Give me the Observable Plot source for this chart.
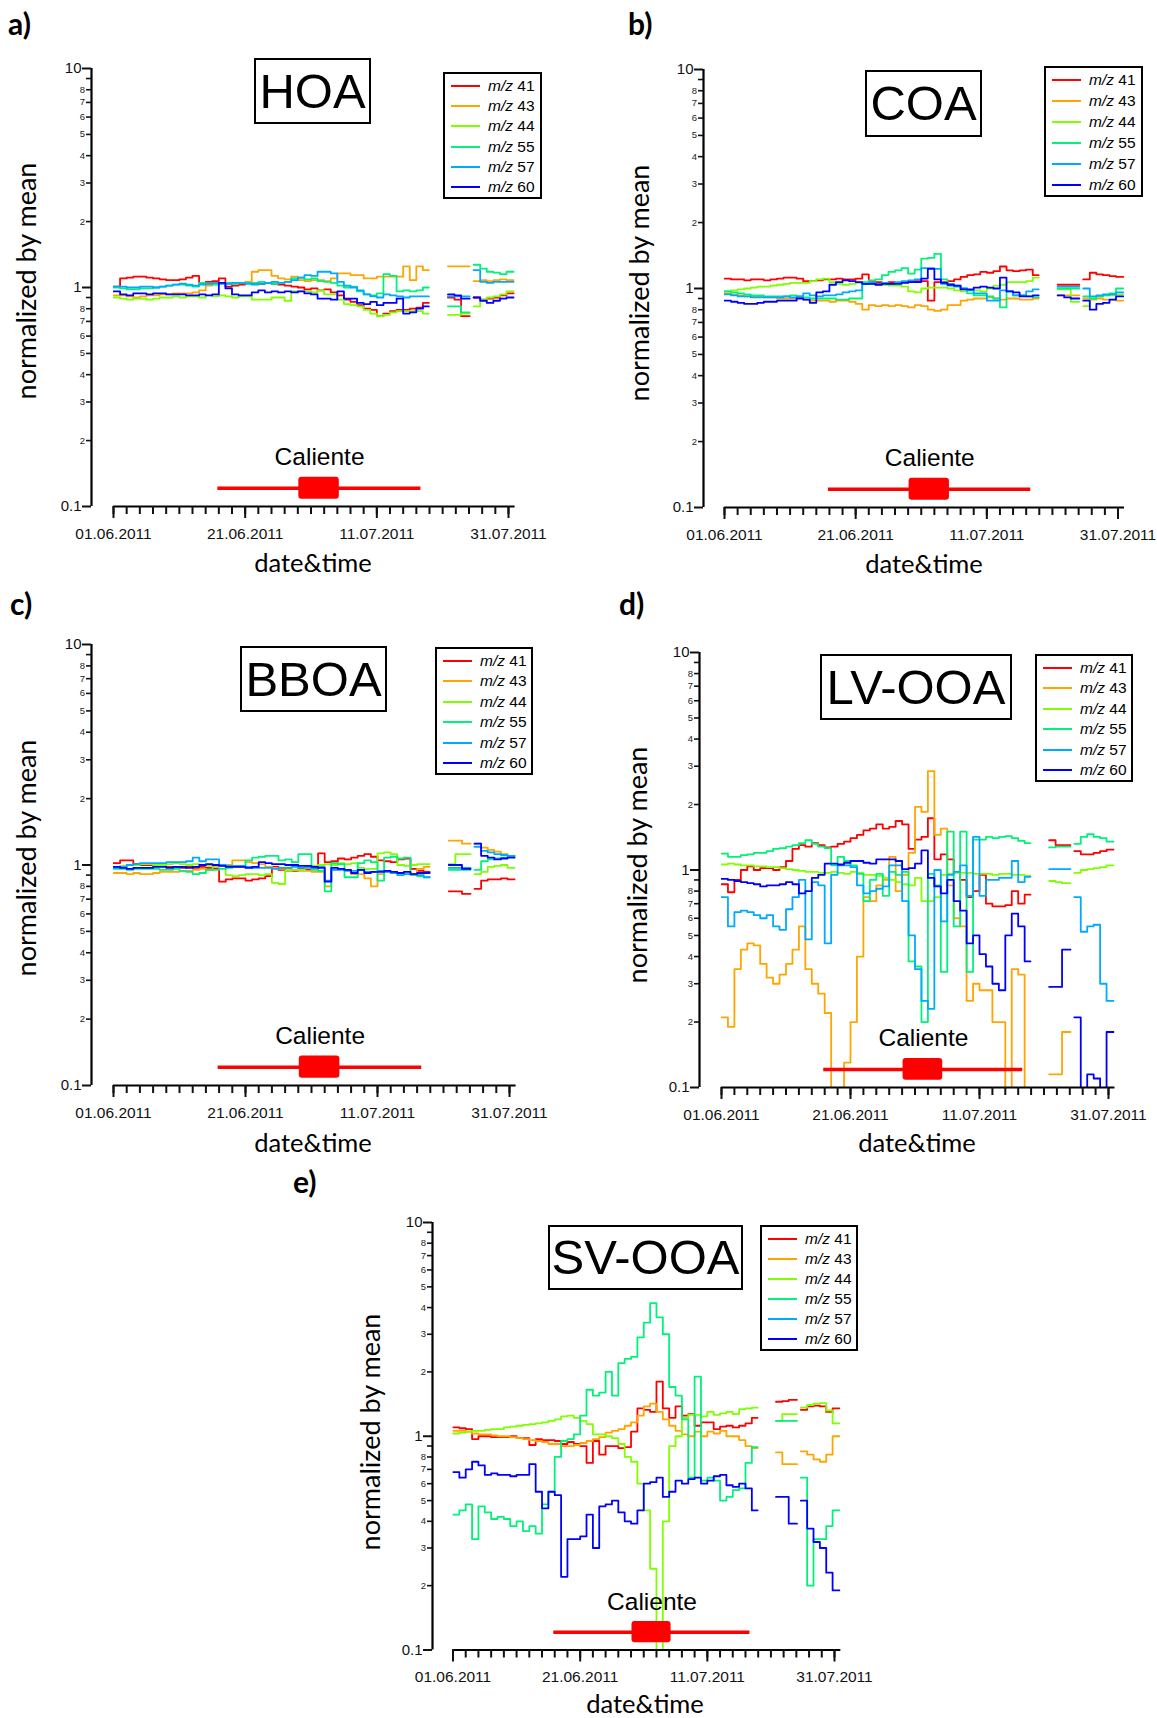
<!DOCTYPE html>
<html><head><meta charset="utf-8">
<script src="https://cdn.jsdelivr.net/npm/d3@7"></script>
<script src="https://cdn.jsdelivr.net/npm/@observablehq/plot@0.6"></script>
<style>
html,body{margin:0;padding:0;background:#fff;}
#fig{position:relative;width:1157px;height:1718px;overflow:hidden;font-family:"Liberation Sans",Arial,sans-serif;color:#000;}
.abs{position:absolute;}
.letter{font-family:Lato,"Open Sans",sans-serif;font-weight:700;font-size:30px;line-height:1;}
.ttl{border:2px solid #000;box-sizing:border-box;display:flex;align-items:center;justify-content:center;font-size:49px;line-height:1;}
.leg{border:2px solid #000;box-sizing:border-box;}
.leg .sw{position:absolute;height:2px;width:29px;left:6px;}
.leg .tx{position:absolute;left:43px;font-size:15.5px;line-height:1;white-space:nowrap;}
.ylab{font-family:Lato,"Open Sans",sans-serif;font-size:27px;white-space:nowrap;transform:translate(-50%,-50%) rotate(-90deg);line-height:1;}
.xlab{font-family:Lato,"Open Sans",sans-serif;font-size:25.5px;white-space:nowrap;transform:translate(-50%,-50%);line-height:1;}
</style></head>
<body><div id="fig"></div>
<script>
// ---------------- data ----------------
// Each series: daily values for days 0..47 (from 01.06.2011), null, 3 values after the first gap, null, 6 values after the second gap.
const MZ = ["41", "43", "44", "55", "57", "60"];
const COLORS = ["#ff0000", "#ffa500", "#80ff00", "#00f27a", "#00aaff", "#0000ff"];
const SEG_START = [0, 50.8, 54.7];
const SEG_END = [47.9, 54.1, 60.8];

const HOA_41 = [1.01,1.10,1.11,1.12,1.12,1.11,1.10,1.09,1.08,1.08, 1.09,1.11,1.13,1.05,1.06,1.07,1.10,1.01,1.02,1.03, 1.05,1.04,1.04,1.05,1.04,1.03,1.02,1.01,1.00,0.98, 0.99,0.97,0.98,0.95,0.92,0.88,0.86,0.83,0.80,0.79, 0.74,0.76,0.78,0.79,0.79,0.80,0.81,0.85, null, 0.90,0.88,0.74, null, 0.90,0.88,0.89,0.90,0.92,0.94];
const HOA_43 = [0.92,0.92,0.91,0.90,0.91,0.92,0.92,0.93,0.93,0.94, 0.94,0.94,0.95,0.97,1.02,1.04,1.05,1.04,1.05,1.05, 1.06,1.18,1.20,1.20,1.13,1.10,1.09,1.12,1.08,1.07, 1.08,1.08,1.07,1.10,1.16,1.16,1.14,1.14,1.10,1.10, 1.12,1.12,1.12,1.12,1.25,1.08,1.25,1.20, null, 1.25,1.25,1.25, null, 1.07,1.08,1.07,1.08,1.09,1.08];
const HOA_44 = [0.90,0.89,0.88,0.89,0.89,0.88,0.89,0.90,0.90,0.91, 0.90,0.91,0.91,0.90,0.92,0.91,0.92,0.91,0.90,0.91, 0.91,0.88,0.88,0.88,0.90,0.90,0.87,0.96,0.96,0.96, 0.95,0.97,0.93,0.93,0.88,0.84,0.83,0.82,0.79,0.76, 0.74,0.75,0.77,0.78,0.78,0.78,0.78,0.76, null, 0.75,0.75,0.76, null, 0.82,0.88,0.90,0.91,0.93,0.96];
const HOA_55 = [1.00,0.99,0.98,0.98,0.99,0.99,1.00,1.01,1.02,1.03, 1.03,1.02,1.01,1.05,1.04,1.03,1.05,1.05,1.04,1.05, 1.05,1.05,1.06,1.05,1.04,1.05,1.06,1.10,1.11,1.09, 1.10,1.07,1.06,1.05,1.02,1.00,1.01,0.96,0.93,0.92, 0.94,1.15,1.13,0.96,0.97,0.96,0.97,1.00, null, 0.82,0.82,0.77, null, 1.27,1.22,1.18,1.17,1.15,1.18];
const HOA_57 = [1.01,1.01,1.00,1.00,1.01,1.01,1.00,1.01,1.02,1.03, 1.04,1.03,1.02,1.03,1.04,1.05,1.04,1.04,1.05,1.05, 1.04,1.03,1.04,1.05,1.06,1.05,1.06,1.08,1.11,1.14, 1.13,1.18,1.18,1.16,1.06,1.02,1.00,0.97,0.93,0.91, 0.90,0.93,0.92,0.91,0.90,0.91,0.91,0.91, null, 0.91,0.91,0.91, null, 1.20,1.06,1.05,1.06,1.06,1.06];
const HOA_60 = [0.96,0.93,0.92,0.94,0.94,0.93,0.94,0.94,0.93,0.93, 0.93,0.92,0.92,0.93,0.92,0.93,1.05,0.99,0.93,0.92, 0.92,0.95,0.97,0.95,0.96,0.95,0.96,0.95,0.96,0.94, 0.93,0.89,0.89,0.88,0.96,0.89,0.89,0.85,0.84,0.86, 0.83,0.85,0.85,0.89,0.76,0.77,0.80,0.82, null, 0.93,0.92,0.89, null, 0.90,0.87,0.85,0.87,0.89,0.90];

const COA_41 = [1.11,1.10,1.10,1.09,1.10,1.10,1.09,1.10,1.11,1.12, 1.12,1.11,1.08,1.08,1.09,1.10,1.10,1.11,1.10,1.10, 1.11,1.16,1.07,1.07,1.06,1.07,1.06,1.07,1.07,1.08, 1.08,0.88,1.07,1.07,1.08,1.10,1.13,1.15,1.16,1.19, 1.18,1.20,1.26,1.21,1.20,1.21,1.22,1.15, null, 1.04,1.04,1.04, null, 1.10,1.18,1.16,1.15,1.14,1.13];
const COA_43 = [0.95,0.94,0.93,0.92,0.92,0.92,0.91,0.91,0.90,0.90, 0.90,0.91,0.89,0.88,0.88,0.88,0.87,0.88,0.88,0.87, 0.85,0.80,0.84,0.83,0.84,0.83,0.84,0.83,0.82,0.84, 0.83,0.80,0.79,0.80,0.84,0.84,0.88,0.89,0.90,0.90, 0.91,0.90,0.89,0.90,0.90,0.89,0.89,0.90, null, 0.93,0.93,0.93, null, 0.90,0.89,0.90,0.89,0.89,0.88];
const COA_44 = [0.97,0.98,0.99,1.00,1.01,1.02,1.02,1.03,1.04,1.05, 1.06,1.06,1.06,1.08,1.10,1.11,1.07,1.05,1.04,1.05, 1.06,1.05,1.05,1.04,1.04,1.03,1.03,1.02,0.97,0.96, 1.00,1.01,1.01,1.01,1.00,0.98,0.97,0.98,0.98,0.97, 1.00,1.03,1.04,1.07,1.07,1.07,1.08,1.12, null, 0.99,0.99,0.87, null, 0.83,0.90,0.92,0.93,0.93,0.94];
const COA_55 = [0.97,0.96,0.95,0.94,0.93,0.93,0.92,0.92,0.92,0.92, 0.93,0.92,0.91,0.90,0.90,0.90,0.90,0.89,0.89,0.90, 0.90,1.07,1.09,1.10,1.15,1.19,1.21,1.24,1.17,1.22, 1.37,1.38,1.44,1.10,1.05,1.03,1.00,0.95,0.93,0.93, 0.92,0.90,0.82,0.97,0.93,0.93,0.92,0.91, null, 1.00,1.00,1.00, null, 0.92,0.90,0.92,0.93,0.95,1.00];
const COA_57 = [0.94,0.93,0.92,0.92,0.91,0.91,0.91,0.91,0.91,0.92, 0.91,0.92,0.95,0.93,0.92,0.93,0.93,0.94,0.96,0.97, 0.98,1.05,1.06,1.05,1.06,1.05,1.07,1.08,1.09,1.10, 1.24,1.24,1.23,1.05,1.03,1.02,1.00,0.98,0.95,0.95, 0.88,0.88,0.98,0.97,0.93,0.93,0.97,0.99, null, 1.02,1.02,1.02, null, 1.00,0.92,0.93,0.94,0.94,0.96];
const COA_60 = [0.88,0.87,0.86,0.85,0.85,0.86,0.87,0.87,0.88,0.88, 0.88,0.90,0.89,0.86,0.96,0.97,1.04,1.07,1.09,1.08, 1.07,1.05,1.05,1.04,1.05,1.05,1.05,1.06,1.07,1.07, 1.11,1.23,1.10,1.06,1.04,1.03,0.99,0.99,1.01,1.02, 1.01,1.00,1.12,0.97,0.96,0.92,0.92,0.93, null, 0.93,0.91,0.90, null, 0.88,0.80,0.85,0.86,0.89,0.92];

const BBOA_41 = [1.02,1.05,1.05,1.01,1.00,1.00,0.99,0.99,0.98,0.98, 0.97,0.98,0.97,0.98,0.97,0.96,0.84,0.86,0.87,0.87, 0.85,0.86,0.87,0.89,0.98,0.95,0.94,0.94,0.96,0.95, 0.96,1.13,1.03,1.04,1.07,1.06,1.08,1.10,1.12,1.09, 1.05,1.04,1.03,1.06,1.07,0.96,0.94,0.93, null, 0.76,0.76,0.74, null, 0.78,0.85,0.86,0.86,0.87,0.86];
const BBOA_43 = [0.92,0.92,0.91,0.92,0.91,0.91,0.92,0.93,0.93,0.93, 0.94,0.94,0.95,0.96,0.95,0.98,0.99,1.00,1.05,1.05, 1.03,1.02,1.01,0.98,0.97,0.96,0.96,0.95,0.94,0.94, 0.93,0.93,0.80,0.95,0.96,0.95,0.91,0.91,0.87,0.80, 0.91,0.93,0.93,0.92,0.91,0.91,0.96,0.98, null, 1.29,1.29,1.25, null, 1.25,1.20,1.17,1.15,1.12,1.10];
const BBOA_44 = [0.98,0.99,1.00,1.00,1.01,1.01,1.00,1.00,1.01,1.02, 1.01,1.00,1.01,1.00,0.99,0.99,1.00,0.90,0.89,0.90, 0.91,0.91,0.90,0.91,0.83,0.82,0.94,0.95,0.95,0.98, 0.99,1.00,1.01,1.00,1.02,1.01,1.02,0.97,0.96,0.96, 1.13,1.14,1.12,1.00,0.99,1.00,1.01,1.01, null, 1.01,1.12,1.12, null, 0.91,0.93,0.98,0.99,1.00,0.97];
const BBOA_55 = [0.96,0.96,0.95,0.96,0.96,0.96,0.96,0.95,0.95,0.96, 0.94,0.93,0.91,0.92,0.95,0.95,0.96,0.97,0.98,0.98, 1.05,1.08,1.09,1.10,1.10,1.05,1.06,1.03,1.12,1.12, 0.95,0.94,0.76,1.02,1.01,0.88,0.88,1.02,1.05,1.03, 0.85,1.08,1.09,1.07,1.08,0.90,0.89,0.88, null, 0.95,0.95,0.95, null, 0.95,1.04,1.06,1.07,1.08,1.09];
const BBOA_57 = [0.97,0.98,1.00,1.01,1.02,1.02,1.02,1.02,1.03,1.03, 1.03,1.04,1.08,1.04,1.06,1.06,1.00,0.99,0.99,0.99, 0.98,0.97,0.97,0.97,0.96,0.97,0.97,0.98,0.97,0.97, 0.97,0.98,0.85,0.95,0.95,0.94,0.94,0.95,0.93,0.93, 0.94,0.93,0.92,0.90,0.91,0.91,0.90,0.88, null, 0.97,0.97,0.97, null, 1.21,1.16,1.14,1.12,1.11,1.10];
const BBOA_60 = [0.98,0.97,0.96,0.97,0.97,0.97,0.98,0.98,0.97,0.98, 0.98,0.97,0.98,1.00,1.01,1.00,0.99,0.98,0.98,0.98, 0.97,0.98,1.03,1.02,1.01,1.01,1.00,1.00,0.99,0.99, 0.98,0.97,0.84,0.97,0.96,0.95,0.92,0.95,0.92,0.93, 0.93,0.94,0.93,0.92,0.93,0.91,0.92,0.92, null, 1.00,1.00,0.96, null, 1.25,1.10,1.08,1.06,1.07,1.08];

const LV_41 = [0.86,0.79,0.90,1.00,1.04,1.00,1.02,1.02,1.00,1.03, 1.10,1.25,1.30,1.28,1.33,1.30,1.27,1.28,1.32,1.35, 1.40,1.45,1.52,1.55,1.62,1.55,1.58,1.68,1.62,1.25, 1.38,1.42,1.73,1.12,1.18,1.12,0.98,0.90,0.75,0.80, 0.95,0.70,0.68,0.68,0.69,0.80,0.70,0.77, null, 1.37,1.30,1.30, null, 1.22,1.18,1.18,1.20,1.22,1.24];
const LV_43 = [0.21,0.19,0.35,0.43,0.46,0.45,0.37,0.32,0.30,0.33, 0.37,0.43,0.55,0.35,0.30,0.27,0.22,0.05,0.05,0.13, 0.20,0.40,0.75,0.72,0.85,0.90,1.15,0.80,0.95,1.20, 1.95,1.85,2.85,1.45,1.55,0.85,0.60,0.55,0.25,0.30, 0.28,0.28,0.20,0.20,0.05,0.35,0.33,0.05, null, 0.115,0.115,0.18, null, 0.05,0.05,0.05,0.05,0.05,0.05];
const LV_44 = [1.06,1.07,1.06,1.05,1.05,1.04,1.04,1.03,1.03,1.02, 1.01,1.00,0.99,0.98,0.98,0.97,0.97,0.98,0.97,0.96, 0.98,0.97,0.95,0.95,0.94,0.92,0.90,0.88,0.86,0.85, 0.92,0.72,0.72,0.75,0.95,0.96,0.97,0.97,0.97,0.96, 0.96,0.96,0.95,0.96,0.96,0.95,0.95,0.94, null, 0.89,0.88,0.87, null, 0.97,1.00,1.01,1.02,1.03,1.05];
const LV_55 = [1.19,1.15,1.15,1.17,1.18,1.20,1.20,1.22,1.25,1.26, 1.28,1.30,1.33,1.37,1.32,1.28,1.26,1.05,1.15,1.10, 1.05,0.96,0.72,0.90,0.96,0.76,0.98,0.95,0.98,0.38, 0.36,0.20,0.96,0.85,0.34,1.50,0.55,1.50,0.34,1.38, 1.38,1.42,1.40,1.42,1.43,1.40,1.36,1.33, null, 1.27,1.28,1.28, null, 1.32,1.42,1.46,1.42,1.40,1.35];
const LV_57 = [0.75,0.55,0.64,0.65,0.64,0.62,0.60,0.62,0.55,0.53, 0.66,0.75,0.90,0.48,0.88,0.85,0.46,0.95,1.05,1.05, 1.03,0.85,0.78,0.80,0.82,0.84,1.05,1.05,0.72,0.50, 0.35,0.25,0.23,1.00,0.58,0.95,0.98,1.05,0.76,1.42, 0.76,0.90,0.90,0.92,0.92,1.10,0.88,0.93, null, 1.01,1.01,1.01, null, 0.75,0.52,0.55,0.56,0.30,0.25];
const LV_60 = [0.91,0.90,0.89,0.88,0.87,0.86,0.84,0.85,0.85,0.86, 0.88,0.86,0.78,0.80,0.92,0.95,1.07,1.07,1.06,1.08, 1.10,1.10,1.08,1.07,1.12,1.12,1.12,1.10,1.01,1.02, 1.07,1.23,0.92,0.84,0.78,0.90,0.72,0.65,0.46,0.50, 0.41,0.36,0.30,0.28,0.50,0.63,0.55,0.38, null, 0.29,0.29,0.43, null, 0.21,0.05,0.115,0.11,0.05,0.18];

const SV_41 = [1.10,1.09,1.08,0.97,1.00,1.00,0.99,0.99,0.99,1.00, 0.98,0.98,0.91,0.97,0.96,0.96,0.95,0.92,0.94,0.92, 0.90,0.75,0.95,0.82,0.90,0.90,0.88,0.89,1.05,1.35, 1.33,1.30,1.80,1.35,1.22,1.38,1.25,1.27,1.12,1.16, 1.16,1.08,1.11,1.12,1.10,1.12,1.15,1.22, null, 1.45,1.46,1.48, null, 1.33,1.38,1.39,1.38,1.30,1.35];
const SV_43 = [1.06,1.06,1.05,1.03,1.02,1.02,1.01,1.00,1.00,0.99, 0.98,0.97,0.96,0.95,0.94,0.92,0.92,0.90,0.90,0.91, 0.93,0.95,0.97,0.99,1.04,1.06,1.08,1.12,1.16,1.25, 1.38,1.42,1.30,1.20,1.12,1.06,1.02,1.00,1.05,1.00, 1.05,1.03,1.06,1.00,1.00,0.96,0.90,0.88, null, 0.84,0.74,0.74, null, 0.85,0.82,0.78,0.76,0.82,1.00];
const SV_44 = [1.03,1.04,1.05,1.06,1.06,1.07,1.08,1.08,1.10,1.11, 1.12,1.13,1.14,1.15,1.16,1.18,1.20,1.24,1.25,1.22, 1.18,1.14,1.02,1.02,1.00,0.98,0.92,0.80,0.76,0.60, 0.45,0.24,0.05,0.40,0.90,1.00,1.22,1.26,1.26,1.24, 1.30,1.26,1.28,1.30,1.27,1.34,1.35,1.36, null, 1.18,1.27,1.27, null, 1.36,1.40,1.42,1.43,1.32,1.15];
const SV_55 = [0.43,0.45,0.48,0.33,0.47,0.44,0.41,0.42,0.41,0.38, 0.40,0.36,0.38,0.35,0.48,0.55,0.80,0.95,0.97,1.02, 1.25,1.65,1.55,1.60,2.00,1.55,2.20,2.30,2.35,2.90, 3.40,4.20,3.60,3.00,1.70,1.55,1.20,0.64,1.90,0.62, 0.64,0.62,0.50,0.52,0.56,0.57,0.75,0.89, null, 1.18,1.18,1.18, null, 0.64,0.20,0.33,0.33,0.38,0.45];
const SV_57 = []; // m/z 57 is listed in the legend but no line of it is visible in this panel
const SV_60 = [0.68,0.64,0.70,0.76,0.73,0.66,0.67,0.66,0.66,0.65, 0.66,0.66,0.74,0.55,0.46,0.55,0.53,0.22,0.33,0.33, 0.34,0.43,0.30,0.47,0.48,0.50,0.44,0.40,0.39,0.45, 0.60,0.61,0.64,0.52,0.55,0.62,0.60,0.63,0.64,0.60, 0.62,0.65,0.66,0.59,0.58,0.60,0.57,0.45, null, 0.52,0.52,0.39, null, 0.50,0.37,0.32,0.30,0.23,0.19];

// Caliente campaign bar (days after 01.06.2011, values on the y scale)
const CAL_SPAN = [15.85, 46.7];
const CAL_CORE = [28.15, 34.3];
const CAL_LEVEL = 0.121;
const CAL_CORE_Y = [0.108, 0.136];
const CAL_LABEL = {day: 31.3, y: 0.168, text: "Caliente"};

// axis ticks
const Y_MAJOR = [0.1, 1, 10];
const Y_MAJOR_LABELS = ["0.1", "1", "10"];
const Y_MINOR = [0.2, 0.3, 0.4, 0.5, 0.6, 0.7, 0.8, 0.9, 2, 3, 4, 5, 6, 7, 8, 9];
const Y_MINOR_LABELS = ["2", "3", "4", "5", "6", "7", "8", "", "2", "3", "4", "5", "6", "7", "8", ""];
const X_MAJOR = ["2011-06-01", "2011-06-21", "2011-07-11", "2011-07-31"];
const X_MAJOR_LABELS = ["01.06.2011", "21.06.2011", "11.07.2011", "31.07.2011"];

// ---------------- helpers ----------------
const DAY = 86400000;
const T0 = Date.UTC(2011, 5, 1);
const D = d => new Date(T0 + d * DAY);

function segPoints(vals) {
  const pts = [];
  if (!vals || !vals.length) return pts;
  let seg = 0, i = 0, last = null;
  for (const v of vals) {
    if (v === null) {
      if (last !== null) pts.push({date: D(SEG_END[seg]), v: last});
      pts.push({date: D(SEG_END[seg] + 0.05), v: NaN});
      seg++; i = 0; last = null; continue;
    }
    pts.push({date: D(SEG_START[seg] + i), v});
    last = v; i++;
  }
  if (last !== null) pts.push({date: D(SEG_END[seg]), v: last});
  return pts;
}

const fig = document.getElementById("fig");
function el(cls, css, html) {
  const d = document.createElement("div");
  d.className = "abs " + cls;
  Object.assign(d.style, css);
  if (html != null) d.innerHTML = html;
  fig.appendChild(d);
  return d;
}

const panels = [
  {letter: "a)", lp: [8, 8], title: "HOA", tb: [254, 58, 117, 66], lg: [443, 72, 99, 127], yl: [25, 281], xl: [313, 563],
   yAxisX: 91, x0: 113, x60: 508, y10: 68, y01: 506, series: [HOA_41, HOA_43, HOA_44, HOA_55, HOA_57, HOA_60]},
  {letter: "b)", lp: [628, 8], title: "COA", tb: [865, 70, 117, 67], lg: [1044, 66, 99, 131], yl: [638, 283], xl: [924, 564],
   yAxisX: 703, x0: 724, x60: 1117.5, y10: 69, y01: 507, series: [COA_41, COA_43, COA_44, COA_55, COA_57, COA_60]},
  {letter: "c)", lp: [10, 588], title: "BBOA", tb: [240, 646, 147, 66], lg: [435, 647, 98, 128], yl: [25, 858], xl: [313, 1143],
   yAxisX: 91, x0: 113, x60: 509, y10: 644, y01: 1085, series: [BBOA_41, BBOA_43, BBOA_44, BBOA_55, BBOA_57, BBOA_60]},
  {letter: "d)", lp: [619, 588], title: "LV-OOA", tb: [820, 654, 192, 66], lg: [1035, 654, 98, 128], yl: [636, 865], xl: [917, 1143],
   yAxisX: 699, x0: 721, x60: 1108, y10: 652, y01: 1087, series: [LV_41, LV_43, LV_44, LV_55, LV_57, LV_60]},
  {letter: "e)", lp: [293, 1166], title: "SV-OOA", tb: [548, 1225, 195, 65], lg: [760, 1225, 98, 126], yl: [369, 1432], xl: [645, 1704],
   yAxisX: 432, x0: 452.5, x60: 834, y10: 1221.5, y01: 1649, series: [SV_41, SV_43, SV_44, SV_55, SV_57, SV_60]}
];

const X_MINOR = d3.utcDay.every(2).range(D(0), D(61));
const fmtMajor = d => X_MAJOR_LABELS[X_MAJOR.indexOf(d3.utcFormat("%Y-%m-%d")(d))];
const FONT = "'Liberation Sans', Arial, sans-serif";

for (const p of panels) {
  const off = p.x0 - p.yAxisX;
  const svgLeft = p.yAxisX - 50;
  const mL = p.x0 - svgLeft;
  const ppd = (p.x60 - p.x0) / 60;
  const plotW = 61 * ppd;
  const width = Math.ceil(mL + plotW + 45);
  const mR = width - mL - plotW;
  const mT = 14;
  const plotH = p.y01 - p.y10;
  const height = Math.ceil(mT + plotH + 44);
  const mB = height - mT - plotH;

  const lineMarks = p.series.map((vals, k) =>
    Plot.line(segPoints(vals), {x: "date", y: "v", stroke: COLORS[k], strokeWidth: 1.8, curve: "step-after", clip: true}));

  const chart = Plot.plot({
    width, height,
    marginLeft: mL, marginRight: mR, marginTop: mT, marginBottom: mB,
    style: {background: "transparent", overflow: "visible", fontFamily: FONT, color: "#111"},
    x: {type: "utc", domain: [D(0), D(61)]},
    y: {type: "log", domain: [0.1, 10]},
    marks: [
      ...lineMarks,
      Plot.ruleY([CAL_LEVEL], {x1: D(CAL_SPAN[0]), x2: D(CAL_SPAN[1]), stroke: "#ff0000", strokeWidth: 3.5}),
      Plot.rect([0], {x1: D(CAL_CORE[0]), x2: D(CAL_CORE[1]), y1: CAL_CORE_Y[0], y2: CAL_CORE_Y[1], fill: "#ff0000", rx: 3}),
      Plot.text([CAL_LABEL], {x: d => D(d.day), y: "y", text: "text", fontSize: 24.5, fill: "#000", fontFamily: FONT}),
      Plot.ruleX([D(0)], {y1: 0.1, y2: 10, dx: -off, strokeWidth: 2.2, stroke: "#000"}),
      Plot.ruleY([0.1], {x1: D(0), x2: D(61), strokeWidth: 2.2, stroke: "#000"}),
      Plot.axisY(Y_MAJOR, {anchor: "left", dx: -off, tickSize: 9, tickPadding: 1, strokeWidth: 2, fontSize: 15, tickFormat: d => Y_MAJOR_LABELS[Y_MAJOR.indexOf(d)], label: null}),
      Plot.axisY(Y_MINOR, {anchor: "left", dx: -off, tickSize: 5, strokeWidth: 1.6, tickFormat: () => "", label: null}),
      Plot.text(Y_MINOR, {y: d => d, frameAnchor: "left", dx: -off - 6.5, textAnchor: "end", fontSize: 9.5, fill: "#222",
        text: d => Y_MINOR_LABELS[Y_MINOR.indexOf(d)], fontFamily: FONT}),
      Plot.axisX(X_MINOR, {anchor: "bottom", tickSize: 8, strokeWidth: 2, tickFormat: () => "", label: null}),
      Plot.axisX(X_MAJOR.map(s => new Date(s + "T00:00:00Z")), {anchor: "bottom", tickSize: 12, tickPadding: 9, strokeWidth: 2, fontSize: 15.5, tickFormat: fmtMajor, label: null})
    ]
  });
  chart.style.position = "absolute";
  chart.style.left = svgLeft + "px";
  chart.style.top = (p.y10 - mT) + "px";
  fig.appendChild(chart);

  el("letter", {left: p.lp[0] + "px", top: p.lp[1] + "px"}, p.letter);
  el("ttl", {left: p.tb[0] + "px", top: p.tb[1] + "px", width: p.tb[2] + "px", height: p.tb[3] + "px"}, p.title);
  const lg = el("leg", {left: p.lg[0] + "px", top: p.lg[1] + "px", width: p.lg[2] + "px", height: p.lg[3] + "px"});
  const step = (p.lg[3] - 26) / 5;
  MZ.forEach((m, k) => {
    const cy = 12 + k * step;
    const sw = document.createElement("div");
    sw.className = "sw"; sw.style.top = (cy - 1) + "px"; sw.style.background = COLORS[k];
    lg.appendChild(sw);
    const tx = document.createElement("div");
    tx.className = "tx"; tx.style.top = (cy - 8) + "px";
    tx.innerHTML = "<i>m/z</i> " + m;
    lg.appendChild(tx);
  });
  el("ylab", {left: p.yl[0] + "px", top: p.yl[1] + "px"}, "normalized by mean");
  el("xlab", {left: p.xl[0] + "px", top: p.xl[1] + "px"}, "date&amp;time");
}
</script></body></html>
